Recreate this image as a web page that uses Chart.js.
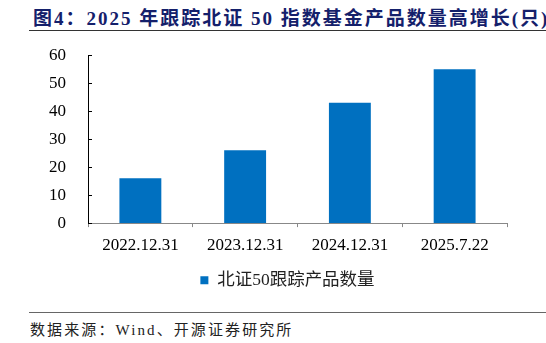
<!DOCTYPE html>
<html>
<head>
<meta charset="utf-8">
<script src="https://cdn.jsdelivr.net/npm/chart.js"></script>
<style>
  body { margin: 0; width: 546px; height: 343px; background: #fff; position: relative; overflow: hidden; }
  #title { position: absolute; left: 33px; top: 3px; font: bold 19px "Liberation Serif", "Noto Sans CJK SC"; color: #14206b; white-space: nowrap; letter-spacing: 2px; }
  #rule1 { position: absolute; left: 29px; right: 0; top: 30px; border-top: 1.5px solid #333; }
  #rule2 { position: absolute; left: 29px; right: 0; top: 312px; border-top: 1px solid #666; }
  #source { position: absolute; left: 30px; top: 318px; font: 15px "Liberation Serif", "Noto Sans CJK SC"; color: #222; letter-spacing: 2.1px; white-space: nowrap; }
  #wrap { position: absolute; left: 0; top: 31px; width: 546px; height: 274px; }
</style>
</head>
<body>
<div id="title">图4：2025 年跟踪北证 50 指数基金产品数量高增长(只)</div>
<div id="rule1"></div>
<div id="wrap"><canvas id="chart"></canvas></div>
<div id="rule2"></div>
<div id="source">数据来源：Wind、开源证券研究所</div>
<script>
const categories = ["2022.12.31", "2023.12.31", "2024.12.31", "2025.7.22"];
const counts = [16, 26, 43, 55];
const seriesName = "北证50跟踪产品数量";
const yTicks = [0, 10, 20, 30, 40, 50, 60];

// short tick marks on the inner side of the y axis
const insideTicks = {
  id: "insideTicks",
  afterDraw(chart) {
    const y = chart.scales.y;
    const ctx = chart.ctx;
    ctx.save();
    ctx.strokeStyle = "#000";
    ctx.lineWidth = 1;
    y.ticks.forEach((t, i) => {
      const py = Math.round(y.getPixelForTick(i)) + 0.5;
      ctx.beginPath();
      ctx.moveTo(y.right, py);
      ctx.lineTo(y.right + 4, py);
      ctx.stroke();
    });
    ctx.restore();
  }
};

// legend sits a bit right of the canvas centre in the original
const shiftLegend = {
  id: "shiftLegend",
  afterLayout(chart) {
    chart.legend.left += 34;
    chart.legend.right += 34;
  }
};

new Chart(document.getElementById("chart"), {
  type: "bar",
  data: {
    labels: categories,
    datasets: [{
      label: seriesName,
      data: counts,
      backgroundColor: "#0070c0",
      categoryPercentage: 1,
      barPercentage: 0.4
    }]
  },
  options: {
    responsive: true,
    maintainAspectRatio: false,
    animation: false,
    layout: { padding: { top: 12, right: 39, left: 0, bottom: 6 } },
    plugins: {
      tooltip: { enabled: false },
      legend: {
        position: "bottom",
        labels: {
          boxWidth: 8, boxHeight: 8, padding: 8,
          color: "#222",
          font: { family: "'Liberation Serif', 'Noto Sans CJK SC'", size: 17.5 }
        }
      }
    },
    scales: {
      x: {
        grid: { display: true, drawOnChartArea: false, offset: true, tickLength: 4, color: "#888" },
        border: { color: "#888" },
        ticks: { color: "#000", padding: 8, font: { family: "'Liberation Serif'", size: 17 } }
      },
      y: {
        min: 0, max: 60,
        afterFit: s => { s.width = 88; },
        afterBuildTicks: s => { s.ticks = yTicks.map(v => ({ value: v })); },
        grid: { display: false },
        border: { color: "#000" },
        ticks: { color: "#000", padding: 14, font: { family: "'Liberation Serif'", size: 17 } }
      }
    }
  },
  plugins: [insideTicks, shiftLegend]
});
</script>
</body>
</html>
